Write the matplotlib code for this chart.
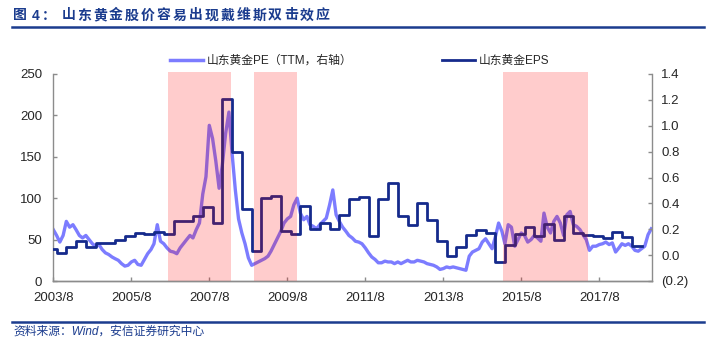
import numpy as np
import pandas as pd
import matplotlib
matplotlib.use("Agg")
import matplotlib.pyplot as plt
from matplotlib.lines import Line2D

CN = ["Liberation Sans", "Noto Sans CJK SC"]
plt.rcParams["font.family"] = CN

# 山东黄金 PE(TTM), monthly from 2003/8
pe = [62, 55, 47, 55, 72, 65, 68, 62, 55, 52, 55, 50,
      45, 42, 44, 38, 34, 32, 29, 27, 25, 21, 18, 19,
      23, 25, 20, 19, 26, 33, 38, 45, 68, 48, 45, 40,
      36, 35, 33, 40, 45, 50, 55, 52, 62, 70, 105, 126,
      188, 172, 145, 112, 140, 178, 204, 155, 110, 75, 58, 45,
      28, 19, 21, 23, 25, 27, 30, 36, 44, 52, 60, 70,
      75, 78, 92, 100, 82, 74, 78, 68, 66, 63, 68, 72,
      76, 92, 110, 80, 72, 65, 60, 55, 52, 48, 47, 45,
      40, 34, 29, 26, 22, 22, 24, 23, 23, 21, 23, 21,
      23, 25, 23, 23, 25, 24, 23, 21, 20, 19, 17, 14,
      15, 17, 16, 17, 16, 15, 14, 13, 30, 35, 37, 39,
      47, 51, 45, 39, 53, 70, 60, 45, 68, 65, 42, 50,
      58, 55, 47, 50, 55, 52, 48, 82, 65, 58, 72, 78,
      70, 55, 80, 84, 68, 66, 62, 56, 50, 37, 42, 42,
      44, 45, 47, 44, 46, 35, 40, 45, 43, 45, 42, 37,
      36, 39, 42, 56, 63]
pe_dates = pd.date_range("2003-08-01", periods=len(pe), freq="MS")

# 山东黄金 EPS, quarterly steps from 2003/6
eps = [0.05, 0.02, 0.065, 0.11, 0.065, 0.09, 0.09, 0.117, 0.15, 0.174,
       0.163, 0.179, 0.163, 0.267, 0.267, 0.30, 0.37, 0.25, 1.205, 0.796,
       0.36, 0.03, 0.44, 0.46, 0.19, 0.165, 0.38, 0.20, 0.25, 0.20,
       0.31, 0.43, 0.45, 0.148, 0.433, 0.557, 0.306, 0.233, 0.40, 0.272,
       0.11, -0.01, 0.065, 0.156, 0.194, 0.169, -0.052, 0.078, 0.16, 0.22,
       0.15, 0.239, 0.117, 0.303, 0.169, 0.156, 0.15, 0.13, 0.18, 0.142,
       0.07, 0.07]
eps_dates = pd.date_range("2003-06-01", periods=len(eps), freq="QS-DEC")

# 戴维斯双击 periods
shade_start = ["2006-07-06", "2008-09-27", "2015-02-09"]
shade_end = ["2008-02-19", "2009-11-03", "2017-04-22"]

xtick_dates = ["2003-08-01", "2005-08-01", "2007-08-01", "2009-08-01",
               "2011-08-01", "2013-08-01", "2015-08-01", "2017-08-01"]
xtick_labels = ["2003/8", "2005/8", "2007/8", "2009/8",
                "2011/8", "2013/8", "2015/8", "2017/8"]
left_ticks = [0, 50, 100, 150, 200, 250]
right_ticks = [-0.2, 0.0, 0.2, 0.4, 0.6, 0.8, 1.0, 1.2, 1.4]

pe_color = "#7C7CFF"
eps_color = "#152A8C"
blue = "#1B3C8E"
grey = "#8C8C8C"
txt = "#262626"

W, H = 715, 355
fig = plt.figure(figsize=(W / 100, H / 100), dpi=100)
ax = fig.add_axes([53.3 / W, 1 - 281 / H, (651.7 - 53.3) / W, (281 - 74) / H])
ax2 = ax.twinx()

ax.plot(pe_dates, pe, color=pe_color, lw=2.4, solid_joinstyle="round")
ax2.plot(eps_dates, eps, color=eps_color, lw=2.0, drawstyle="steps-post", zorder=1.5)

for s, e in zip(shade_start, shade_end):
    ax2.axvspan(pd.Timestamp(s), pd.Timestamp(e), ymin=0, ymax=1.012,
                color="red", alpha=0.2, lw=0, zorder=2, clip_on=False)

ax.set_xlim(pd.Timestamp("2003-08-01"), pd.Timestamp("2018-12-05"))
ax.set_ylim(0, 250)
ax2.set_ylim(-0.2, 1.4)

ax.set_xticks(pd.to_datetime(xtick_dates))
ax.set_xticklabels(xtick_labels)
ax.set_yticks(left_ticks)
ax2.set_yticks(right_ticks)
ax2.set_yticklabels(["(%.1f)" % -v if v < 0 else "%.1f" % v for v in right_ticks])
ax2.get_yticklabels()[0].set_color("red")

for a in (ax, ax2):
    a.spines["top"].set_visible(False)
    for sp in ("left", "right", "bottom"):
        a.spines[sp].set_color(grey)
        a.spines[sp].set_linewidth(1.0)
        a.spines[sp].set_zorder(3)
    a.tick_params(direction="in", length=3, width=1, color=grey,
                  labelsize=9.5, labelcolor=txt)
ax.spines["right"].set_visible(False)
ax2.spines["left"].set_visible(False)
ax.tick_params(axis="y", pad=8)
ax.tick_params(axis="x", pad=8)
ax2.tick_params(axis="y", pad=7)

handles = [Line2D([], [], color=pe_color, lw=2.5), Line2D([], [], color=eps_color, lw=2.0)]
fig.legend(handles, ["山东黄金PE（TTM，右轴）", "山东黄金EPS"], loc="center left",
           bbox_to_anchor=(170 / W, 1 - 61 / H), ncol=2, frameon=False, fontsize=8.5,
           handlelength=2.8, handletextpad=0.3, columnspacing=7.6,
           borderpad=0, borderaxespad=0, labelcolor=txt)

# title, spaced out like the report
title_y = 1 - 15.5 / H
for ch, x in [("图", 13), ("4", 32), ("：", 42)]:
    fig.text(x / W, title_y, ch, fontsize=10, weight="bold", color=blue, va="center")
for i, ch in enumerate("山东黄金股价容易出现戴维斯双击效应"):
    fig.text((61.5 + 15.9 * i) / W, title_y, ch, fontsize=10, weight="bold",
             color=blue, va="center")
fig.add_artist(Line2D([12 / W, 704 / W], [1 - 27 / H] * 2, color=blue, lw=1.8))

fig.add_artist(Line2D([12 / W, 704 / W], [1 - 321.7 / H] * 2, color=blue, lw=1.8))
fig.text(13 / W, 1 - 331.5 / H, "资料来源：Wind，安信证券研究中心", fontsize=8.5,
         style="italic", color=blue, va="center")

fig.savefig("out.png", dpi=100)
